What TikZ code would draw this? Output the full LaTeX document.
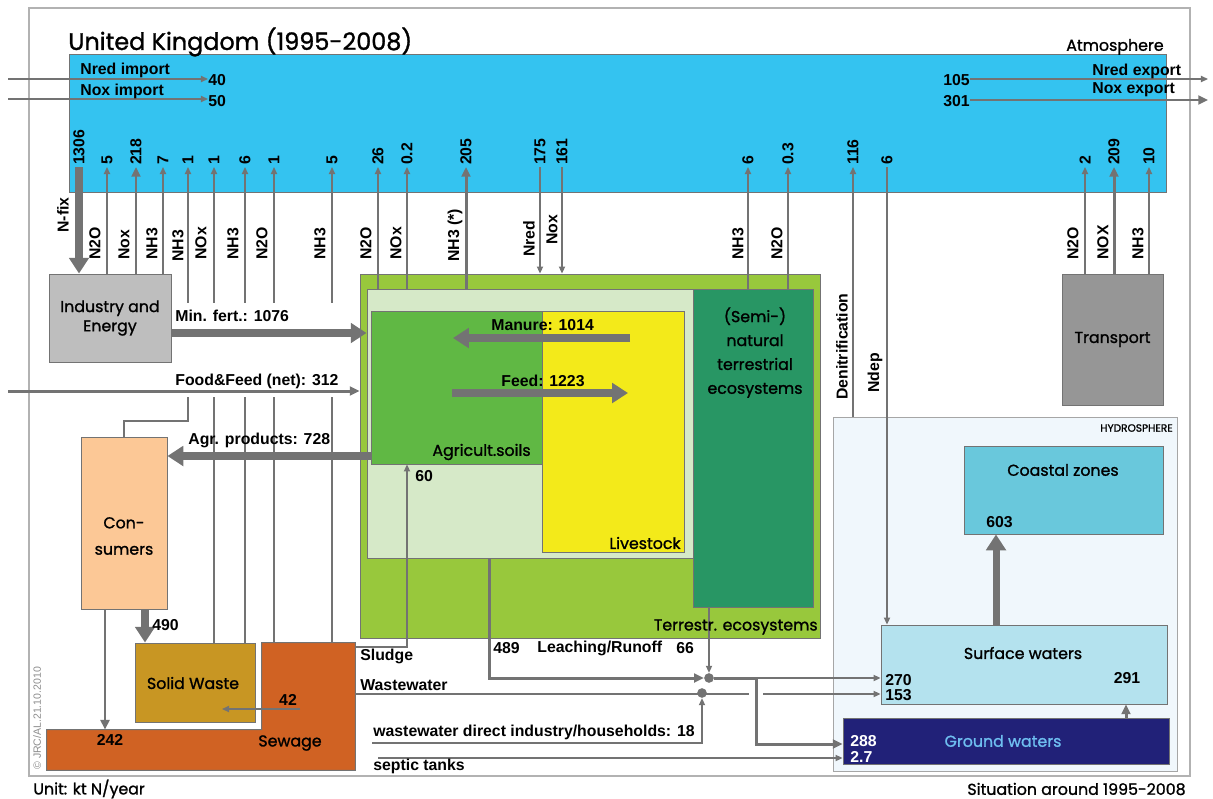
\documentclass[tikz,border=0pt]{standalone}
\usepackage{fontspec}
\setmainfont{Liberation Sans}
\newfontfamily\comicfont{Poppins}[FakeBold=1.2]
\usetikzlibrary{arrows.meta,fit}

\definecolor{atmblue}{RGB}{52,195,240}
\definecolor{indgray}{RGB}{190,190,190}
\definecolor{trgray}{RGB}{150,150,150}
\definecolor{peach}{RGB}{252,200,150}
\definecolor{ochre}{RGB}{200,150,35}
\definecolor{seworange}{RGB}{208,98,35}
\definecolor{terrgreen}{RGB}{152,200,60}
\definecolor{palegreen}{RGB}{214,233,200}
\definecolor{agrigreen}{RGB}{96,184,68}
\definecolor{liveyellow}{RGB}{243,234,26}
\definecolor{semigreen}{RGB}{40,150,100}
\definecolor{hydroblue}{RGB}{240,247,252}
\definecolor{coastblue}{RGB}{105,200,220}
\definecolor{surfblue}{RGB}{180,226,238}
\definecolor{groundblue}{RGB}{33,33,120}
\definecolor{gwtext}{RGB}{110,190,240}
\definecolor{flowgray}{RGB}{115,115,115}

\tikzset{
    box/.style ={draw=black!55, line width=0.5pt, inner sep=0pt},
    flow/.style ={draw=flowgray, line width=0.8pt, -{Triangle[length=4pt,width=3.5pt]}},
    plain/.style ={draw=flowgray, line width=0.8pt},
    medflow/.style ={draw=flowgray, line width=1.7pt, -{Triangle[length=5.5pt,width=5pt]}},
    bigflow/.style ={draw=flowgray, line width=4pt, -{Triangle[length=9pt,width=11pt]}},
    num/.style ={font=\fontsize{9}{10}\selectfont\bfseries, rotate=90, anchor=west, inner sep=1pt},
    gas/.style ={font=\fontsize{9}{10}\selectfont\bfseries, rotate=90, anchor=west, inner sep=0pt},
    lbl/.style ={font=\fontsize{9}{10}\selectfont\bfseries, inner sep=0pt},
    comic/.style ={font=\fontsize{9}{11}\comicfont, inner sep=0pt},
    dot/.style ={circle, fill=flowgray, inner sep=0pt, minimum size=5.5pt}
}

\begin{document}
\begin{tikzpicture}[x=0.02cm,y=-0.02cm]
\useasboundingbox (0,0) rectangle (1213,798);
\node[fit={(29,8)(1190,776)}, draw=black!30, line width=0.8pt, inner sep=0pt] (frame) {};

% boxes
\node[box, fill=atmblue, fit={(69,54)(1166,192)}] (atm) {};
\node[box, fill=indgray, fit={(49,274)(171,362)}] (ind) {};
\node[box, fill=trgray, fit={(1062,274)(1163,405)}] (trans) {};
\node[box, fill=terrgreen, fit={(360,274)(820,638)}] (terr) {};
\node[box, fill=palegreen, fit={(367,289)(693,558)}] (lgreen) {};
\node[box, fill=agrigreen, fit={(371,311)(542,464)}] (agri) {};
\node[box, fill=liveyellow, fit={(542,311)(684,552)}] (live) {};
\node[box, fill=semigreen, fit={(693,289)(813,607)}] (semi) {};
\node[box, fill=peach, fit={(81,437)(167,609)}] (cons) {};
\node[box, fill=ochre, fit={(135,643)(255,722)}] (solid) {};
\node[fill=seworange, inner sep=0pt, fit={(262,643)(355,770)}] (sewtop) {};
\node[fill=seworange, inner sep=0pt, fit={(47,730)(355,770)}] (sewbar) {};
\draw[black!55, line width=0.5pt] (sewbar.south west) -- (sewbar.north west) -- (sewbar.north west -| sewtop.west)
    -- (sewtop.north west) -- (sewtop.north east) -- (sewbar.south east) -- cycle;
\node[draw=black!35, fill=hydroblue, inner sep=0pt, fit={(833,417)(1177,771)}] (hydro) {};
\node[box, fill=coastblue, fit={(964,446)(1163,534)}] (coast) {};
\node[box, fill=surfblue, fit={(881,625)(1167,704)}] (surf) {};
\node[box, fill=groundblue, fit={(843,718)(1169,764)}] (ground) {};

% numbers in the atmosphere
\foreach \nm/\x/\v in {a/79/1306, b/107/5, c/136/218, d/163/7, e/188/1, f/214/1, g/245/6,
    h/274/1, i/332/5, j/378/26, k/407/0.2, l/466/205, m/540/175, n/562/161, o/748/6,
    p/788/0.3, q/853/116, r/887/6, s/1085/2, t/1114/209, u/1149/10}
    \node[num] (n\nm) at (\x,167) {\v};

% gases
\foreach \x/\y/\t [count=\k] in {63/233/N-fix, 95/260/N2O, 124/260/Nox, 152/260/NH3, 178/262/NH3,
    201/260/NOx, 233/260/NH3, 262/260/N2O, 320/260/NH3, 366/260/N2O, 396/260/NOx,
    455/262/NH3 (*), 529/257/Nred, 552/245/Nox, 738/260/NH3, 777/260/N2O,
    842/400/Denitrification, 875/393/Ndep, 1073/260/N2O, 1103/260/NOX, 1138/260/NH3}
    \node[gas] (gas\k) at (\x,\y) {\t};

% exchanges with the atmosphere
\draw[bigflow] (na.west) -- (na.west |- ind.north);
\draw[flow] (ind.north -| nb.west) -- (nb.west);
\draw[medflow] (ind.north -| nc.west) -- (nc.west);
\draw[flow] (ind.north -| nd.west) -- (nd.west);
\coordinate (consup) at (188,421);
\draw[flow] (cons.north) |- (consup) -- (ne.west);
\draw[flow] (solid.north -| nf.west) -- (nf.west);
\draw[flow] (solid.north -| ng.west) -- (ng.west);
\draw[flow] (sewtop.north -| nh.west) -- (nh.west);
\draw[flow] (sewtop.north -| ni.west) -- (ni.west);
\draw[flow] (lgreen.north -| nj.west) -- (nj.west);
\draw[flow] (lgreen.north -| nk.west) -- (nk.west);
\draw[medflow] (lgreen.north -| nl.west) -- (nl.west);
\draw[flow] (nm.west) -- (nm.west |- terr.north);
\draw[flow] (nn.west) -- (nn.west |- terr.north);
\draw[flow] (semi.north -| no.west) -- (no.west);
\draw[flow] (semi.north -| np.west) -- (np.west);
\draw[flow] (hydro.north -| nq.west) -- (nq.west);
\draw[flow] (nr.west) -- (nr.west |- surf.north);
\draw[flow] (trans.north -| ns.west) -- (ns.west);
\draw[medflow] (trans.north -| nt.west) -- (nt.west);
\draw[flow] (trans.north -| nu.west) -- (nu.west);
\fill[white] (180,303) rectangle (345,397);

% imports and exports
\node[lbl, anchor=west] (n40) at (208,80) {40};
\node[lbl, anchor=west] (n50) at (208,101) {50};
\node[lbl, anchor=east] (n105) at (970,80) {105};
\node[lbl, anchor=east] (n301) at (970,101) {301};
\coordinate (nredin) at (8,79);
\coordinate (noxin) at (8,99);
\coordinate (nredout) at (1208,79);
\coordinate (noxout) at (1208,100);
\draw[flow] (nredin) -- (nredin -| n40.west);
\draw[flow] (noxin) -- (noxin -| n50.west);
\draw[flow] (n105.east |- nredout) -- (nredout);
\draw[medflow] (n301.east |- noxout) -- (noxout);
\node[lbl, anchor=west] (nredimp) at (80,70) {Nred import};
\node[lbl, anchor=west] (noximp) at (80,91) {Nox import};
\node[lbl, anchor=west] (nredexp) at (1092,71) {Nred export};
\node[lbl, anchor=west] (noxexp) at (1092,90) {Nox export};

% flows between compartments
\coordinate (mfA) at (171,333);
\draw[bigflow] (ind.east |- mfA) -- (mfA -| lgreen.west);
\coordinate (ffA) at (8,391);
\draw[medflow] (ffA) -- (ffA -| terr.west);
\coordinate (agA) at (371,456);
\draw[bigflow] (agri.west |- agA) -- (cons.east |- agA);
\coordinate (manA) at (630,338);
\coordinate (manB) at (453,338);
\draw[bigflow] (manA) -- (manB);
\coordinate (feedA) at (452,393);
\coordinate (feedB) at (628,393);
\draw[bigflow] (feedA) -- (feedB);
\draw[bigflow] (cons.south -| 145,0) -- (solid.north -| 145,0);
\draw[medflow] (cons.south -| 105,0) -- (sewbar.north -| 105,0);
\coordinate (w42A) at (300,709);
\coordinate (w42B) at (222,709);
\draw[flow] (w42A) -- (w42B);
\coordinate (sludge) at (407,647);
\draw[flow] (sewtop.east |- sludge) -- (sludge) -- (sludge |- agri.south);

% to the hydrosphere
\node[dot] (dotup) at (709,678) {};
\node[dot] (dotlow) at (702,693) {};
\coordinate (wwgapL) at (749,694);
\coordinate (wwgapR) at (763,694);
\draw[plain] (sewtop.east |- wwgapL) -- (wwgapL);
\draw[flow] (wwgapR) -- (wwgapR -| surf.west);
\coordinate (leach) at (489,678);
\coordinate (split) at (756,678);
\coordinate (gwin) at (756,744);
\draw[medflow] (lgreen.south -| leach) -- (leach) -- (dotup.west);
\draw[flow] (semi.south -| dotup) -- (dotup.north);
\draw[medflow] (dotup) -- (split) -- (gwin) -- (gwin -| ground.west);
\draw[flow] (split) -- (split -| surf.west);
\coordinate (wwd) at (372,743);
\draw[flow] (wwd) -| (dotlow.south);
\coordinate (sept) at (378,758);
\draw[flow] (sept) -- (sept -| ground.west);
\draw[bigflow] (surf.north -| 996,0) -- (coast.south -| 996,0);
\draw[medflow] (ground.north -| 1126,0) -- (surf.south -| 1126,0);

% texts
\node[anchor=west, font=\fontsize{13.6}{15}\comicfont, inner sep=0pt] (title) at (68,42) {United Kingdom (1995-2008)};
\node[comic, anchor=east] (atmlbl) at (1164,47) {Atmosphere};
\node[comic, align=center] (indlbl) at (ind.center) {Industry and\\Energy};
\node[comic] (trlbl) at (trans.center) {Transport};
\node[lbl, anchor=west] (mflbl) at (175,316) {Min. fert.: 1076};
\node[lbl, anchor=west] (fflbl) at (175,381) {Food\&Feed (net): 312};
\node[lbl, anchor=west] (aglbl) at (188,440) {Agr. products: 728};
\node[lbl, anchor=west] (manlbl) at (491,325) {Manure: 1014};
\node[lbl, anchor=west] (feedlbl) at (501,381) {Feed: 1223};
\node[comic, anchor=east] (agrilbl) at (531,452) {Agricult.soils};
\node[comic, anchor=east] (livelbl) at (681,543) {Livestock};
\node[comic, align=center, anchor=north, font=\fontsize{9}{13.6}\comicfont] (semilbl) at (755,307)
    {(Semi-)\\natural\\terrestrial\\ecosystems};
\node[comic, anchor=east] (terrlbl) at (818,627) {Terrestr. ecosystems};
\node[lbl, anchor=west] (n60) at (415,476) {60};
\node[comic, align=center, font=\fontsize{9}{15}\comicfont] (conslbl) at (124,536) {Con-\\sumers};
\node[lbl, anchor=west] (n490) at (152,625) {490};
\node[comic] (solidlbl) at (193,683) {Solid Waste};
\node[lbl] (n42) at (288,700) {42};
\node[lbl] (n242) at (110,740) {242};
\node[comic] (sewlbl) at (290,743) {Sewage};
\node[lbl, anchor=west] (sludgelbl) at (360,656) {Sludge};
\node[lbl, anchor=west] (wwlbl) at (360,685) {Wastewater};
\node[lbl, anchor=west] (n489) at (493,648) {489};
\node[lbl, anchor=west] (leachlbl) at (537,648) {Leaching/Runoff};
\node[lbl, anchor=west] (n66) at (676,648) {66};
\node[lbl, anchor=south west] (wwdlbl) at (373,740) {wastewater direct industry/households: 18};
\node[lbl, anchor=north west] (septlbl) at (373,759) {septic tanks};
\node[comic, anchor=east, font=\fontsize{6}{7}\comicfont] (hydrolbl) at (1173,428) {HYDROSPHERE};
\node[comic] (coastlbl) at (1063,470) {Coastal zones};
\node[lbl, anchor=west] (n603) at (986,522) {603};
\node[comic] (surflbl) at (1023,653) {Surface waters};
\node[lbl, anchor=west] (n270) at (885,680) {270};
\node[lbl, anchor=west] (n153) at (885,695) {153};
\node[lbl] (n291) at (1127,678) {291};
\node[comic, text=gwtext] (gwlbl) at (1003,741) {Ground waters};
\node[lbl, anchor=west, text=white] (n288) at (850,741) {288};
\node[lbl, anchor=west, text=white] (n27) at (850,757) {2.7};
\node[comic, anchor=west] (unitlbl) at (33,789) {Unit: kt N/year};
\node[comic, anchor=east] (sitlbl) at (1186,789) {Situation around 1995-2008};
\node[rotate=90, anchor=west, font=\fontsize{6}{7}\selectfont, text=black!45, inner sep=0pt] (copy) at (37,770)
    {\textcopyright\ JRC/AL.21.10.2010};
\end{tikzpicture}
\end{document}
